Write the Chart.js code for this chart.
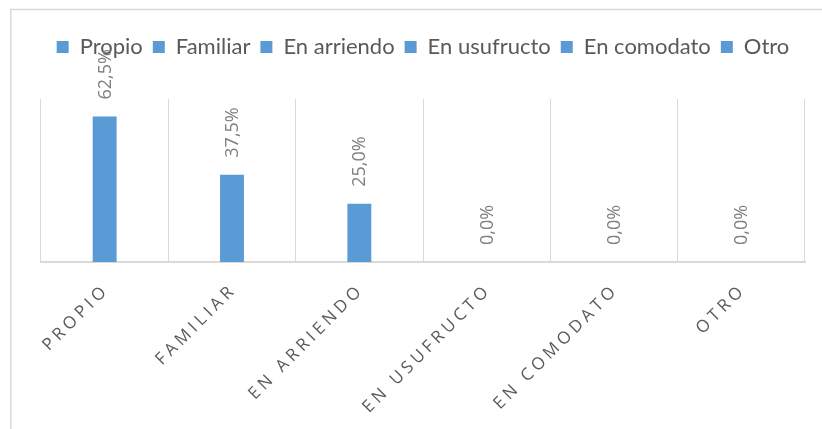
<!DOCTYPE html>
<html><head><meta charset="utf-8">
<script src="https://cdn.jsdelivr.net/npm/chart.js@4/dist/chart.umd.min.js"></script>
<style>html,body{margin:0;padding:0;background:#fff;overflow:hidden}#wrap{width:822px;height:429px;position:relative}</style>
</head><body><div id="wrap"><canvas id="c"></canvas></div>
<script>
const categories = ['Propio', 'Familiar', 'En arriendo', 'En usufructo', 'En comodato', 'Otro'];
const axisLabels = ['PROPIO', 'FAMILIAR', 'EN ARRIENDO', 'EN USUFRUCTO', 'EN COMODATO', 'OTRO'];
const values = [62.5, 37.5, 25.0, 0.0, 0.0, 0.0];
const yMin = 0;
const yMax = 70;

const barColor = '#5b9bd5';
const gridColor = '#d9d9d9';
const textColor = '#595959';
const labelColor = '#7f7f7f';

const datasets = categories.map((name, i) => ({
  label: name,
  data: categories.map((_, j) => (j === i ? values[i] : null)),
  backgroundColor: barColor,
  borderWidth: 0,
  grouped: false,
  barPercentage: 0.188,
  categoryPercentage: 1
}));

const framePlugin = {
  id: 'frame',
  beforeDraw(chart) {
    const ctx = chart.ctx;
    ctx.save();
    ctx.strokeStyle = gridColor;
    ctx.lineWidth = 1.5;
    ctx.strokeRect(10.75, 9.5, 1000, 600);
    ctx.restore();
  }
};

const legendSpace = {
  id: 'legendSpace',
  beforeUpdate(chart) {
    const lg = chart.legend;
    if (lg && !lg._extraPatched) {
      const f = lg.fit;
      lg.fit = function () { f.call(this); this.height += 31; };
      lg._extraPatched = true;
    }
  }
};

const valueLabels = {
  id: 'valueLabels',
  afterDatasetsDraw(chart) {
    const ctx = chart.ctx;
    const ys = chart.scales.y;
    chart.data.datasets.forEach((ds, di) => {
      const meta = chart.getDatasetMeta(di);
      ds.data.forEach((v, j) => {
        if (v === null) return;
        const el = meta.data[j];
        const top = ys.getPixelForValue(v);
        ctx.save();
        ctx.translate(el.x + 1, top - 17);
        ctx.rotate(-Math.PI / 2);
        ctx.font = '18px "Open Sans"';
        ctx.fillStyle = labelColor;
        ctx.textAlign = 'left';
        ctx.textBaseline = 'middle';
        ctx.fillText(v.toFixed(1).replace('.', ',') + '%', 0, 0);
        ctx.restore();
      });
    });
  }
};

const axisText = {
  id: 'axisText',
  afterDraw(chart) {
    const ctx = chart.ctx;
    const xs = chart.scales.x;
    const base = chart.chartArea.bottom;
    const ls = 4;
    axisLabels.forEach((t, i) => {
      const cx = xs.getPixelForValue(i);
      ctx.save();
      ctx.translate(cx - 1, base + 28);
      ctx.rotate(-Math.PI / 4);
      ctx.font = '17px "Open Sans"';
      ctx.letterSpacing = ls + 'px';
      ctx.fillStyle = textColor;
      ctx.textAlign = 'right';
      ctx.textBaseline = 'middle';
      ctx.fillText(t, ls, 0);
      ctx.restore();
    });
  }
};

new Chart(document.getElementById('c'), {
  type: 'bar',
  data: { labels: axisLabels, datasets },
  options: {
    responsive: true,
    maintainAspectRatio: false,
    animation: false,
    layout: { padding: { top: 26, left: 41, right: 17, bottom: 167 } },
    plugins: {
      legend: {
        position: 'top',
        labels: {
          boxWidth: 12, boxHeight: 12, padding: 10,
          color: textColor,
          font: { family: 'Lato', size: 22 }
        }
      },
      tooltip: { enabled: false }
    },
    scales: {
      x: {
        offset: true,
        grid: { offset: true, color: gridColor, lineWidth: 1, drawTicks: false },
        border: { display: true, color: gridColor, width: 2 },
        ticks: { display: false }
      },
      y: {
        display: false,
        min: yMin, max: yMax
      }
    }
  },
  plugins: [framePlugin, legendSpace, valueLabels, axisText]
});
</script>
</body></html>
